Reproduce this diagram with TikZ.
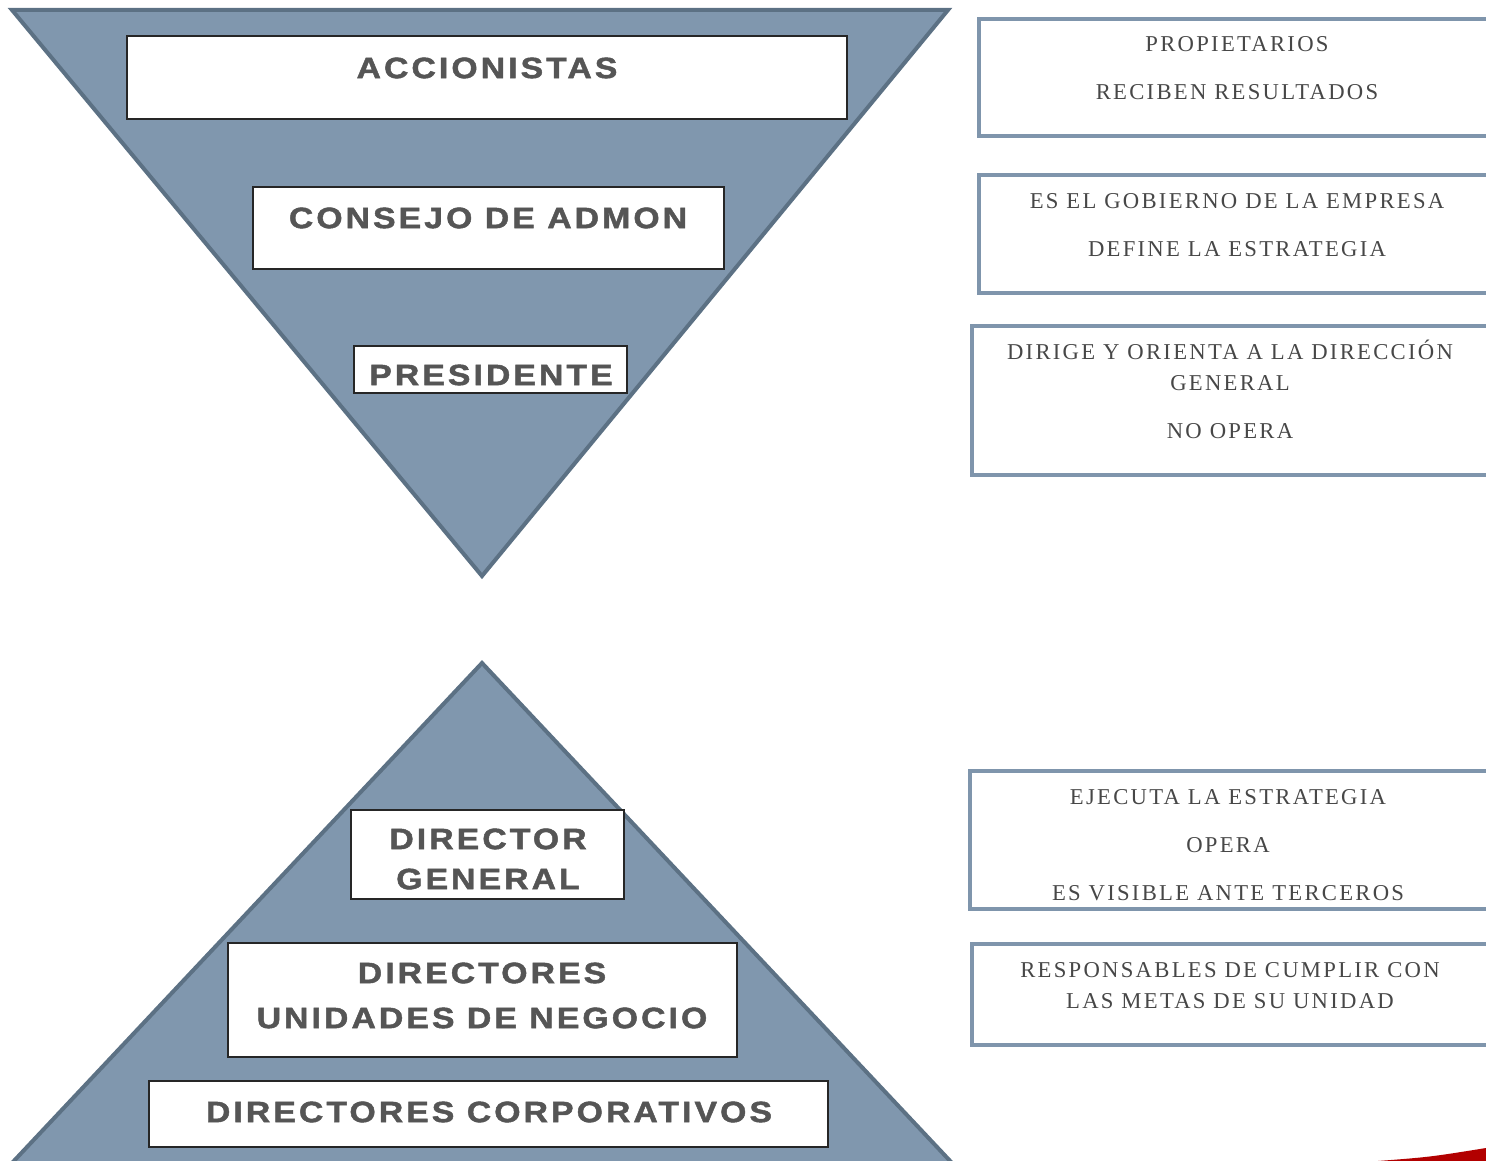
\documentclass[tikz,border=0pt]{standalone}
\usepackage{fontspec}
\usepackage{tikz}
\usetikzlibrary{fit}
\newfontfamily\levelfont[FakeStretch=1.15,LetterSpace=10.5,FakeBold=1.6]{Liberation Sans Bold}
\newfontfamily\notefont[LetterSpace=10]{Liberation Serif}
\definecolor{triFill}{HTML}{8097AE}
\definecolor{triEdge}{HTML}{5C7184}
\definecolor{noteEdge}{HTML}{7F95AC}
\definecolor{levelInk}{HTML}{555555}
\definecolor{noteInk}{HTML}{474747}

\begin{document}
\begin{tikzpicture}[x=0.2mm, y=-0.2mm,
	tri/.style={fill=triFill, draw=triEdge, line width=0.8mm},
	levelbox/.style={draw=black!85, fill=white, line width=0.35mm, inner sep=0pt},
	leveltext/.style={inner sep=0pt, align=center, text=levelInk, font=\levelfont\fontsize{16.7}{22.8}\selectfont},
	notebox/.style={draw=noteEdge, line width=0.8mm, inner sep=0pt},
	notetext/.style={inner sep=0pt, align=center, text=noteInk, font=\notefont\fontsize{12.9}{17.6}\selectfont}]
	\useasboundingbox (0,0) rectangle (1486,1161);
	\clip (0,0) rectangle (1486,1161);
	% the two triangles
	\draw[tri] (12,10) -- (948,10) -- (482,576) -- cycle;
	\draw[tri] (482,663) -- (968,1180) -- (-4,1180) -- cycle;
	% levels
	\node[levelbox, fit={(127,36) (847,119)}] (acc) {};
	\node[leveltext] (accT) at (487,68) {ACCIONISTAS};
	\node[levelbox, fit={(253,187) (724,269)}] (cons) {};
	\node[leveltext] (consT) at (488,218) {CONSEJO DE ADMON};
	\node[levelbox, fit={(354,346) (627,393)}] (pres) {};
	\node[leveltext] (presT) at (491,375) {PRESIDENTE};
	\node[levelbox, fit={(351,810) (624,899)}] (dg) {};
	\node[leveltext] (dgT) at (488,859) {DIRECTOR\\GENERAL};
	\node[levelbox, fit={(228,943) (737,1057)}] (dun) {};
	\node[leveltext] (dunT) at (482,995.5) {DIRECTORES\\[2.8pt]UNIDADES DE NEGOCIO};
	\node[levelbox, fit={(149,1081) (828,1147)}] (dcorp) {};
	\node[leveltext] (dcorpT) at (489,1112) {DIRECTORES CORPORATIVOS};
	% notes on the right
	\node[notebox, fit={(979,19) (1492,136)}] (own) {};
	\node[notetext] (ownT) at (1237,68) {PROPIETARIOS\\[9.7pt]RECIBEN RESULTADOS};
	\node[notebox, fit={(979,175) (1492,293)}] (gov) {};
	\node[notetext] (govT) at (1237,225) {ES EL GOBIERNO DE LA EMPRESA\\[9.7pt]DEFINE LA ESTRATEGIA};
	\node[notebox, fit={(972,326) (1492,475)}] (lead) {};
	\node[notetext] (leadT) at (1230,389.5) {DIRIGE Y ORIENTA A LA DIRECCIÓN\\GENERAL\\[9.7pt]NO OPERA};
	\node[notebox, fit={(970,771) (1492,909)}] (exec) {};
	\node[notetext] (execT) at (1228,845) {EJECUTA LA ESTRATEGIA\\[9.7pt]OPERA\\[9.7pt]ES VISIBLE ANTE TERCEROS};
	\node[notebox, fit={(972,944) (1492,1045)}] (goal) {};
	\node[notetext] (goalT) at (1230,985.5) {RESPONSABLES DE CUMPLIR CON\\LAS METAS DE SU UNIDAD};
	% red swoosh in the corner
	\fill[red!70!black] (1378,1161) .. controls (1430,1157) .. (1486,1148) -- (1486,1161) -- cycle;
\end{tikzpicture}
\end{document}
